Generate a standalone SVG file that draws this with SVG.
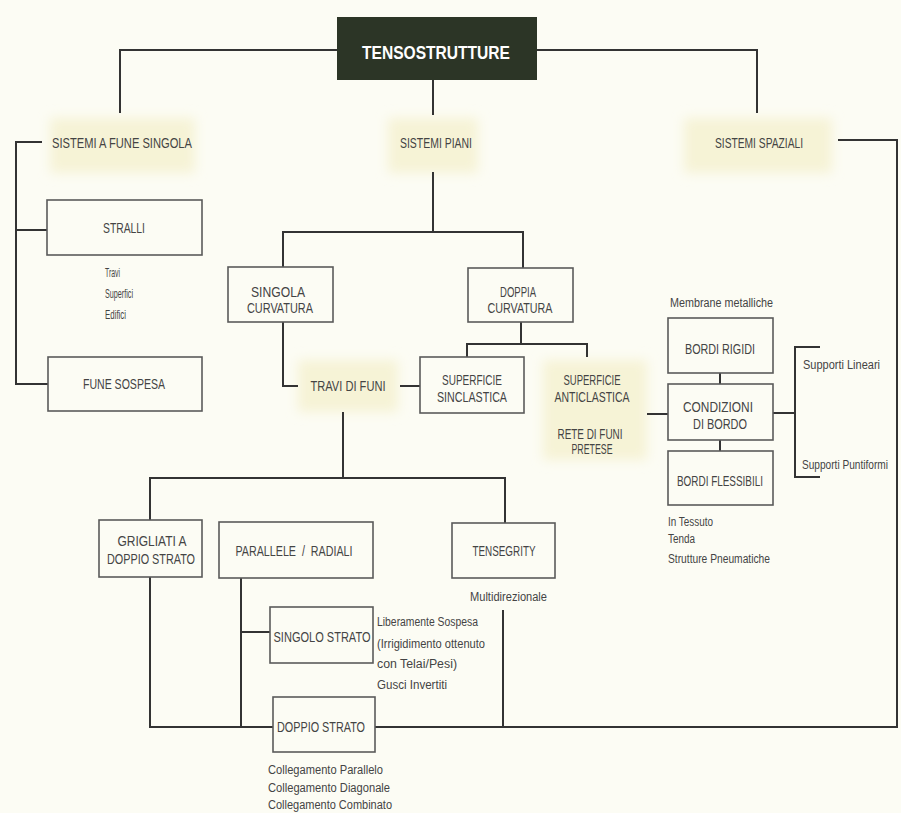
<svg xmlns="http://www.w3.org/2000/svg" width="901" height="813" viewBox="0 0 901 813">
  <style>
    .bg { fill: #fcfcf4; }
    .hl { fill: #f6f3d6; filter: url(#soft); }
    .box { fill: none; stroke: #5a5a5a; stroke-width: 1.6; }
    .wire { fill: none; stroke: #333333; stroke-width: 2; }
    .t { font-family: "Liberation Sans Narrow", "Liberation Sans", Arial, sans-serif; font-size: 14px; fill: #444444; text-anchor: middle; }
    .s { font-family: "Liberation Sans Narrow", "Liberation Sans", Arial, sans-serif; font-size: 12px; fill: #444444; }
    .title { font-family: "Liberation Sans Narrow", "Liberation Sans", Arial, sans-serif; font-size: 19px; font-weight: bold; fill: #ffffff; text-anchor: middle; }
  </style>
  <defs>
    <filter id="soft" x="-30%" y="-30%" width="160%" height="160%">
      <feGaussianBlur stdDeviation="6"/>
    </filter>
  </defs>

  <rect class="bg" x="0" y="0" width="901" height="813"/>

  <!-- pale highlight behind the headings without a frame -->
  <g id="highlights">
    <rect class="hl" x="50" y="118" width="145" height="55"/>
    <rect class="hl" x="388" y="118" width="90" height="55"/>
    <rect class="hl" x="684" y="118" width="148" height="55"/>
    <rect class="hl" x="298" y="360" width="100" height="52"/>
    <rect class="hl" x="543" y="360" width="104" height="100"/>
  </g>

  <!-- connectors -->
  <g id="connectors">
    <path class="wire" d="M337 50 H120 V113"/>
    <path class="wire" d="M537 50 H757 V113"/>
    <path class="wire" d="M433 80 V115"/>
    <path class="wire" d="M42 142 H16 V384 H48"/>
    <path class="wire" d="M16 230 H47"/>
    <path class="wire" d="M838 140 H897 V727 H375"/>
    <path class="wire" d="M433 172 V232"/>
    <path class="wire" d="M283 267 V232 H523 V268"/>
    <path class="wire" d="M283 322 V386 H298"/>
    <path class="wire" d="M400 386 H420"/>
    <path class="wire" d="M521 322 V344"/>
    <path class="wire" d="M467 357 V344 H587 V357"/>
    <path class="wire" d="M647 414 H668"/>
    <path class="wire" d="M720 373 V384"/>
    <path class="wire" d="M720 440 V451"/>
    <path class="wire" d="M773 413 H795"/>
    <path class="wire" d="M820 347 H795 V477 H820"/>
    <path class="wire" d="M343 412 V478"/>
    <path class="wire" d="M150 520 V478 H505 V523"/>
    <path class="wire" d="M150 577 V727 H273"/>
    <path class="wire" d="M241 578 V727"/>
    <path class="wire" d="M241 632 H270"/>
    <path class="wire" d="M503 610 V727"/>
  </g>

  <g id="tensostrutture">
    <rect x="337" y="17" width="200" height="63" fill="#2c3526"/>
    <text class="title" x="436" y="59" textLength="148" lengthAdjust="spacingAndGlyphs">TENSOSTRUTTURE</text>
  </g>

  <g id="sistemi-fune-singola">
    <text class="t" x="122" y="148" textLength="140" lengthAdjust="spacingAndGlyphs">SISTEMI A FUNE SINGOLA</text>
  </g>

  <g id="sistemi-piani">
    <text class="t" x="436" y="148" textLength="72" lengthAdjust="spacingAndGlyphs">SISTEMI PIANI</text>
  </g>

  <g id="sistemi-spaziali">
    <text class="t" x="759" y="148" textLength="88" lengthAdjust="spacingAndGlyphs">SISTEMI SPAZIALI</text>
  </g>

  <g id="stralli">
    <rect class="box" x="47" y="200" width="155" height="55"/>
    <text class="t" x="124" y="233" textLength="42" lengthAdjust="spacingAndGlyphs">STRALLI</text>
    <text class="s" x="105" y="277" textLength="15" lengthAdjust="spacingAndGlyphs">Travi</text>
    <text class="s" x="105" y="298" textLength="28" lengthAdjust="spacingAndGlyphs">Superfici</text>
    <text class="s" x="105" y="319" textLength="21" lengthAdjust="spacingAndGlyphs">Edifici</text>
  </g>

  <g id="fune-sospesa">
    <rect class="box" x="48" y="357" width="154" height="54"/>
    <text class="t" x="124" y="389" textLength="82" lengthAdjust="spacingAndGlyphs">FUNE SOSPESA</text>
  </g>

  <g id="singola-curvatura">
    <rect class="box" x="228" y="267" width="105" height="55"/>
    <text class="t" x="278" y="297" textLength="54" lengthAdjust="spacingAndGlyphs">SINGOLA</text>
    <text class="t" x="280" y="313" textLength="66" lengthAdjust="spacingAndGlyphs">CURVATURA</text>
  </g>

  <g id="doppia-curvatura">
    <rect class="box" x="468" y="268" width="105" height="54"/>
    <text class="t" x="518" y="297" textLength="36" lengthAdjust="spacingAndGlyphs">DOPPIA</text>
    <text class="t" x="520" y="313" textLength="65" lengthAdjust="spacingAndGlyphs">CURVATURA</text>
  </g>

  <g id="travi-di-funi">
    <text class="t" x="348" y="391" textLength="75" lengthAdjust="spacingAndGlyphs">TRAVI DI FUNI</text>
  </g>

  <g id="superficie-sinclastica">
    <rect class="box" x="420" y="357" width="104" height="56"/>
    <text class="t" x="472" y="385" textLength="60" lengthAdjust="spacingAndGlyphs">SUPERFICIE</text>
    <text class="t" x="472" y="402" textLength="70" lengthAdjust="spacingAndGlyphs">SINCLASTICA</text>
  </g>

  <g id="superficie-anticlastica">
    <text class="t" x="592" y="385" textLength="57" lengthAdjust="spacingAndGlyphs">SUPERFICIE</text>
    <text class="t" x="592" y="402" textLength="75" lengthAdjust="spacingAndGlyphs">ANTICLASTICA</text>
    <text class="t" x="590" y="439" textLength="65" lengthAdjust="spacingAndGlyphs">RETE DI FUNI</text>
    <text class="t" x="592" y="454" textLength="41" lengthAdjust="spacingAndGlyphs">PRETESE</text>
  </g>

  <g id="bordi-rigidi">
    <text class="s" x="670" y="307" textLength="103" lengthAdjust="spacingAndGlyphs">Membrane metalliche</text>
    <rect class="box" x="668" y="318" width="105" height="55"/>
    <text class="t" x="720" y="354" textLength="70" lengthAdjust="spacingAndGlyphs">BORDI RIGIDI</text>
  </g>

  <g id="condizioni-di-bordo">
    <rect class="box" x="668" y="384" width="105" height="56"/>
    <text class="t" x="718" y="412" textLength="70" lengthAdjust="spacingAndGlyphs">CONDIZIONI</text>
    <text class="t" x="720" y="429" textLength="54" lengthAdjust="spacingAndGlyphs">DI BORDO</text>
  </g>

  <g id="bordi-flessibili">
    <rect class="box" x="668" y="451" width="105" height="54"/>
    <text class="t" x="720" y="486" textLength="86" lengthAdjust="spacingAndGlyphs">BORDI FLESSIBILI</text>
    <text class="s" x="668" y="526" textLength="45" lengthAdjust="spacingAndGlyphs">In Tessuto</text>
    <text class="s" x="668" y="543" textLength="27" lengthAdjust="spacingAndGlyphs">Tenda</text>
    <text class="s" x="668" y="563" textLength="102" lengthAdjust="spacingAndGlyphs">Strutture Pneumatiche</text>
  </g>

  <g id="supporti">
    <text class="s" x="803" y="369" textLength="77" lengthAdjust="spacingAndGlyphs">Supporti Lineari</text>
    <text class="s" x="802" y="469" font-size="11" textLength="86" lengthAdjust="spacingAndGlyphs">Supporti Puntiformi</text>
  </g>

  <g id="grigliati">
    <rect class="box" x="99" y="520" width="103" height="57"/>
    <text class="t" x="152" y="546" textLength="69" lengthAdjust="spacingAndGlyphs">GRIGLIATI A</text>
    <text class="t" x="151" y="564" textLength="88" lengthAdjust="spacingAndGlyphs">DOPPIO STRATO</text>
  </g>

  <g id="parallele-radiali">
    <rect class="box" x="219" y="522" width="154" height="56"/>
    <text class="t" x="294" y="556" textLength="117" lengthAdjust="spacingAndGlyphs" xml:space="preserve">PARALLELE  /  RADIALI</text>
  </g>

  <g id="tensegrity">
    <rect class="box" x="452" y="523" width="103" height="55"/>
    <text class="t" x="504" y="556" textLength="63" lengthAdjust="spacingAndGlyphs">TENSEGRITY</text>
    <text class="s" x="470" y="601" textLength="77" lengthAdjust="spacingAndGlyphs">Multidirezionale</text>
  </g>

  <g id="singolo-strato">
    <rect class="box" x="270" y="607" width="103" height="56"/>
    <text class="t" x="322" y="642" textLength="97" lengthAdjust="spacingAndGlyphs">SINGOLO STRATO</text>
    <text class="s" x="377" y="626" textLength="101" lengthAdjust="spacingAndGlyphs">Liberamente Sospesa</text>
    <text class="s" x="377" y="648" textLength="108" lengthAdjust="spacingAndGlyphs">(Irrigidimento ottenuto</text>
    <text class="s" x="377" y="668" textLength="80" lengthAdjust="spacingAndGlyphs">con Telai/Pesi)</text>
    <text class="s" x="377" y="689" textLength="70" lengthAdjust="spacingAndGlyphs">Gusci Invertiti</text>
  </g>

  <g id="doppio-strato">
    <rect class="box" x="273" y="697" width="102" height="55"/>
    <text class="t" x="321" y="732" textLength="88" lengthAdjust="spacingAndGlyphs">DOPPIO STRATO</text>
    <text class="s" x="268" y="774" textLength="115" lengthAdjust="spacingAndGlyphs">Collegamento Parallelo</text>
    <text class="s" x="268" y="792" textLength="122" lengthAdjust="spacingAndGlyphs">Collegamento Diagonale</text>
    <text class="s" x="268" y="809" font-size="11" textLength="124" lengthAdjust="spacingAndGlyphs">Collegamento Combinato</text>
  </g>
</svg>
